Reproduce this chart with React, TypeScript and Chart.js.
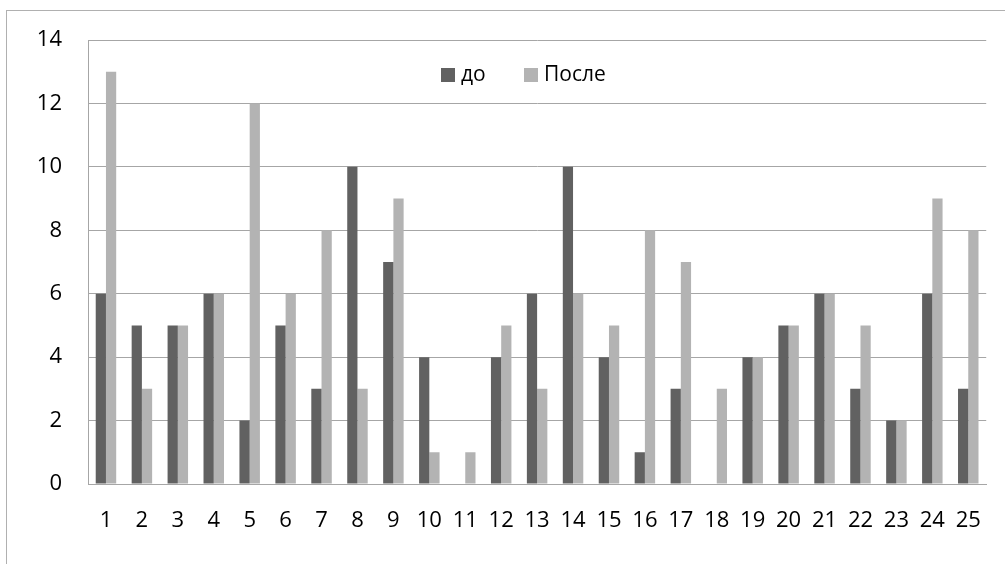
import React, { useEffect, useRef } from "react";
import { Chart, registerables } from "chart.js";

Chart.register(...registerables);

const categories = ["1","2","3","4","5","6","7","8","9","10","11","12","13","14","15","16","17","18","19","20","21","22","23","24","25"];
const beforeValues = [6,5,5,6,2,5,3,10,7,4,0,4,6,10,4,1,3,0,4,5,6,3,2,6,3];
const afterValues = [13,3,5,6,12,6,8,3,9,1,1,5,3,6,5,8,7,3,4,5,6,5,2,9,8];
const seriesNames = ["до", "После"];
const seriesColors = ["#616161", "#b3b3b3"];

const FONT = "'Open Sans', 'Noto Sans', sans-serif";

const legendPlugin = {
  id: "innerLegend",
  afterDraw(chart: any) {
    const ctx = chart.ctx;
    ctx.save();
    ctx.font = `21px ${FONT}`;
    ctx.textBaseline = "middle";
    ctx.textAlign = "left";
    const y = 75;
    const entries = [
      { x: 441, label: seriesNames[0], color: seriesColors[0] },
      { x: 524, label: seriesNames[1], color: seriesColors[1] },
    ];
    entries.forEach((e) => {
      ctx.fillStyle = e.color;
      ctx.fillRect(e.x, y - 7, 14, 14);
      ctx.fillStyle = "#000";
      ctx.fillText(e.label, e.x + 20, y);
    });
    ctx.restore();
  },
};

export default function App() {
  const ref = useRef<HTMLCanvasElement>(null);
  useEffect(() => {
    if (!ref.current) return;
    const chart = new Chart(ref.current, {
      type: "bar",
      data: {
        labels: categories,
        datasets: [
          { label: seriesNames[0], data: beforeValues, backgroundColor: seriesColors[0], borderWidth: 0 },
          { label: seriesNames[1], data: afterValues, backgroundColor: seriesColors[1], borderWidth: 0 },
        ],
      },
      options: {
        animation: false,
        responsive: false,
        maintainAspectRatio: false,
        layout: { padding: { top: 40, right: 8, left: 0, bottom: 0 } },
        datasets: { bar: { categoryPercentage: 0.57, barPercentage: 1 } },
        plugins: { legend: { display: false }, tooltip: { enabled: false } },
        scales: {
          x: {
            grid: { display: false, drawTicks: false },
            border: { display: true, color: "#a6a6a6", width: 1 },
            ticks: { color: "#000", font: { family: FONT, size: 22 }, padding: 24, maxRotation: 0, autoSkip: false },
            afterFit: (scale: any) => { scale.height = 80; },
          },
          y: {
            min: 0,
            max: 14,
            ticks: { stepSize: 2, color: "#000", font: { family: FONT, size: 22 }, padding: 26 },
            grid: { color: "#a6a6a6", drawTicks: false, lineWidth: 1 },
            border: { display: true, color: "#a6a6a6", width: 1 },
            afterFit: (scale: any) => { scale.width = 88; },
          },
        },
      },
      plugins: [legendPlugin],
    });
    return () => chart.destroy();
  }, []);
  return (
    <div style={{ position: "fixed", left: 0, top: 0, width: 1005, height: 564, overflow: "hidden", background: "#fff" }}>
      <div style={{ position: "absolute", left: 6, top: 10, width: 1100, height: 700, border: "1px solid #b0b0b0" }} />
      <canvas ref={ref} width={1005} height={564} style={{ position: "absolute", left: 0, top: 0 }} />
    </div>
  );
}
